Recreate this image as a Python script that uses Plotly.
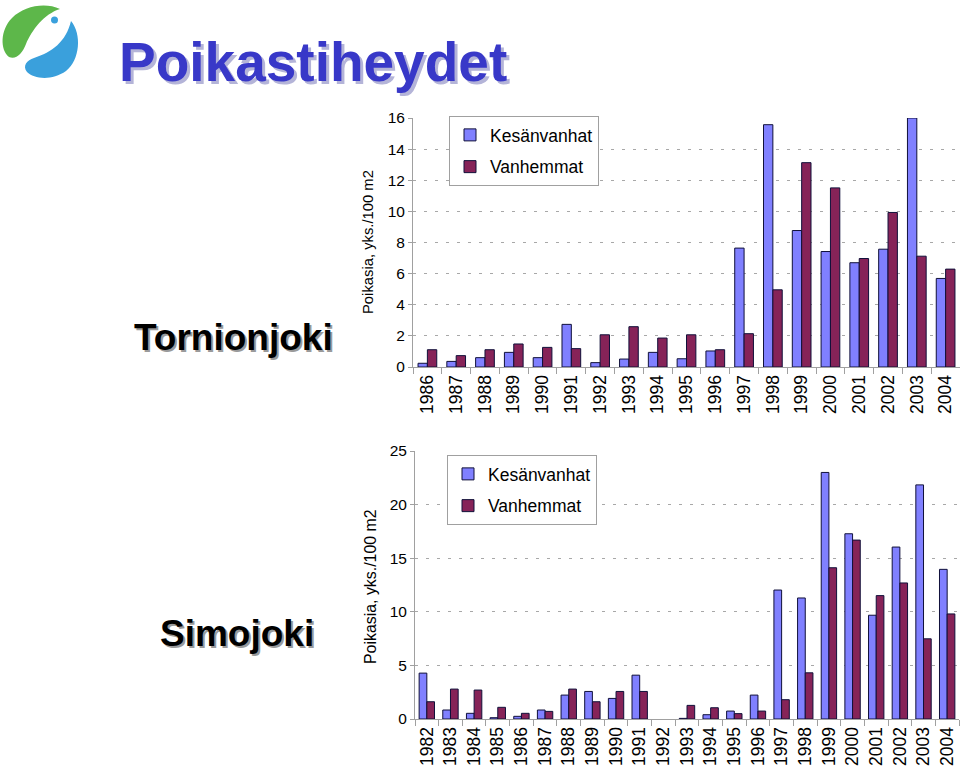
import plotly.graph_objects as go

# ---------------- data ----------------
torn_years = [str(y) for y in range(1986, 2005)]
torn_kesanvanhat = [0.24, 0.36, 0.6, 0.94, 0.6, 2.74, 0.28, 0.51, 0.94, 0.53,
                    1.03, 7.64, 15.57, 8.77, 7.42, 6.70, 7.57, 16.0, 5.69]
torn_vanhemmat = [1.11, 0.73, 1.11, 1.48, 1.26, 1.18, 2.07, 2.59, 1.86, 2.07,
                  1.11, 2.14, 4.96, 13.13, 11.51, 6.97, 9.93, 7.12, 6.29]

simo_years = [str(y) for y in range(1982, 2005)]
simo_kesanvanhat = [4.28, 0.84, 0.53, 0.12, 0.25, 0.84, 2.23, 2.57, 1.92, 4.09, None,
                    0.06, 0.40, 0.74, 2.23, 12.03, 11.29, 23.0, 17.28, 9.68, 16.04, 21.84, 13.96]
simo_vanhemmat = [1.61, 2.79, 2.70, 1.09, 0.53, 0.71, 2.79, 1.61, 2.57, 2.57, None,
                  1.27, 1.05, 0.50, 0.74, 1.80, 4.31, 14.11, 16.69, 11.51, 12.69, 7.48, 9.80]

series_names = ["Kesänvanhat", "Vanhemmat"]
series_colors = ["#8080FF", "#862358"]
y_title = "Poikasia, yks./100 m2"

W, H = 960, 776
FONT = "Arial, Liberation Sans, sans-serif"


def px(x):
    return x / W


def py(y):
    return 1 - y / H


fig = go.Figure()

for name, vals, col in zip(series_names, [torn_kesanvanhat, torn_vanhemmat], series_colors):
    fig.add_trace(go.Bar(x=torn_years, y=vals, name=name, marker_color=col,
                         marker_line=dict(color="#10103a", width=1),
                         xaxis="x", yaxis="y", legend="legend", legendgroup=name + "1"))
for name, vals, col in zip(series_names, [simo_kesanvanhat, simo_vanhemmat], series_colors):
    fig.add_trace(go.Bar(x=simo_years, y=vals, name=name, marker_color=col,
                         marker_line=dict(color="#10103a", width=1),
                         xaxis="x2", yaxis="y2", legend="legend2", legendgroup=name + "2"))

xcommon = dict(showline=True, linecolor="#a0a0a0", linewidth=1,
               ticks="outside", tickcolor="#a0a0a0", ticklen=6,
               tickfont=dict(family=FONT, size=17.5, color="black"),
               automargin=False, type="category", tickangle=-90,
               tickson="boundaries", showgrid=False)
ycommon = dict(showline=True, linecolor="#a0a0a0", linewidth=1,
               ticks="outside", tickcolor="#a0a0a0", ticklen=4,
               tickfont=dict(family=FONT, size=15.5, color="black"),
               automargin=False, showgrid=True, gridcolor="#a8a8a8",
               griddash="3px,8px", gridwidth=1, zeroline=False)

legend_common = dict(xanchor="left", yanchor="top", bgcolor="white",
                     bordercolor="#a0a0a0", borderwidth=1,
                     font=dict(family=FONT, size=17.5, color="black"),
                     traceorder="grouped", tracegroupgap=6)

fig.update_layout(
    width=W, height=H,
    margin=dict(l=0, r=0, t=0, b=0),
    paper_bgcolor="white", plot_bgcolor="white",
    barmode="group", bargap=0.35, bargroupgap=0,
    font=dict(family=FONT, color="black"),
    xaxis=dict(domain=[px(413), px(960)], anchor="y", **xcommon),
    yaxis=dict(domain=[py(367), py(118)], anchor="x", range=[0, 16], dtick=2, **ycommon),
    xaxis2=dict(domain=[px(415), px(959)], anchor="y2", **xcommon),
    yaxis2=dict(domain=[py(719), py(451)], anchor="x2", range=[0, 25], dtick=5, **ycommon),
    legend=dict(x=px(449), y=py(116), **legend_common),
    legend2=dict(x=px(447), y=py(455), **legend_common),
    showlegend=True,
)

annotations = []
annotations.append(dict(text=y_title, x=px(368), y=py(242), xref="paper", yref="paper",
                        xanchor="center", yanchor="middle",
                        textangle=-90, showarrow=False,
                        font=dict(family=FONT, size=14.8, color="black")))
annotations.append(dict(text=y_title, x=px(370), y=py(587), xref="paper", yref="paper",
                        xanchor="center", yanchor="middle",
                        textangle=-90, showarrow=False,
                        font=dict(family=FONT, size=15.9, color="black")))


def shadow_text(text, x, y, size, color, shadow, off):
    for dx, col in ((off, shadow), (0, color)):
        annotations.append(dict(text="<b>%s</b>" % text, x=px(x + dx), y=py(y + dx),
                                xref="paper", yref="paper", showarrow=False,
                                xanchor="center", yanchor="middle",
                                font=dict(family=FONT, size=size, color=col)))


shadow_text("Poikastiheydet", 313, 62, 55, "#3838C8", "#B4B4D8", 3)
shadow_text("Tornionjoki", 233, 337, 37, "black", "#9a9a9a", 2)
shadow_text("Simojoki", 237, 633, 37, "black", "#9a9a9a", 2)

fig.update_layout(annotations=annotations)


# logo (decorative)
def path_px(cmds):
    out = []
    for c in cmds:
        if isinstance(c, str):
            out.append(c)
        else:
            out.append("%.5f,%.5f" % (px(c[0]), py(c[1])))
    return " ".join(out)


green = path_px(["M", (9, 57), "C", (0, 50), (0, 30), (12, 18),
                 "C", (24, 6), (45, 2), (60, 9),
                 "C", (44, 14), (32, 30), (26, 44),
                 "C", (22, 54), (16, 60), (9, 57), "Z"])
blue = path_px(["M", (71, 21), "C", (82, 34), (80, 60), (66, 71),
                "C", (52, 81), (34, 79), (27, 72),
                "C", (22, 66), (27, 60), (34, 58),
                "C", (52, 52), (66, 42), (71, 21), "Z"])
fig.add_shape(type="path", path=green, xref="paper", yref="paper",
              fillcolor="#5DB74A", line=dict(width=0), layer="above")
fig.add_shape(type="path", path=blue, xref="paper", yref="paper",
              fillcolor="#3AA0DC", line=dict(width=0), layer="above")
fig.add_shape(type="circle", xref="paper", yref="paper",
              x0=px(51), x1=px(58), y0=py(23.5), y1=py(16.5),
              fillcolor="#3AA0DC", line=dict(width=0))

fig.write_html("out.html", config={"displayModeBar": False},
               post_script="document.body.style.margin='0';document.body.style.overflow='hidden';")
